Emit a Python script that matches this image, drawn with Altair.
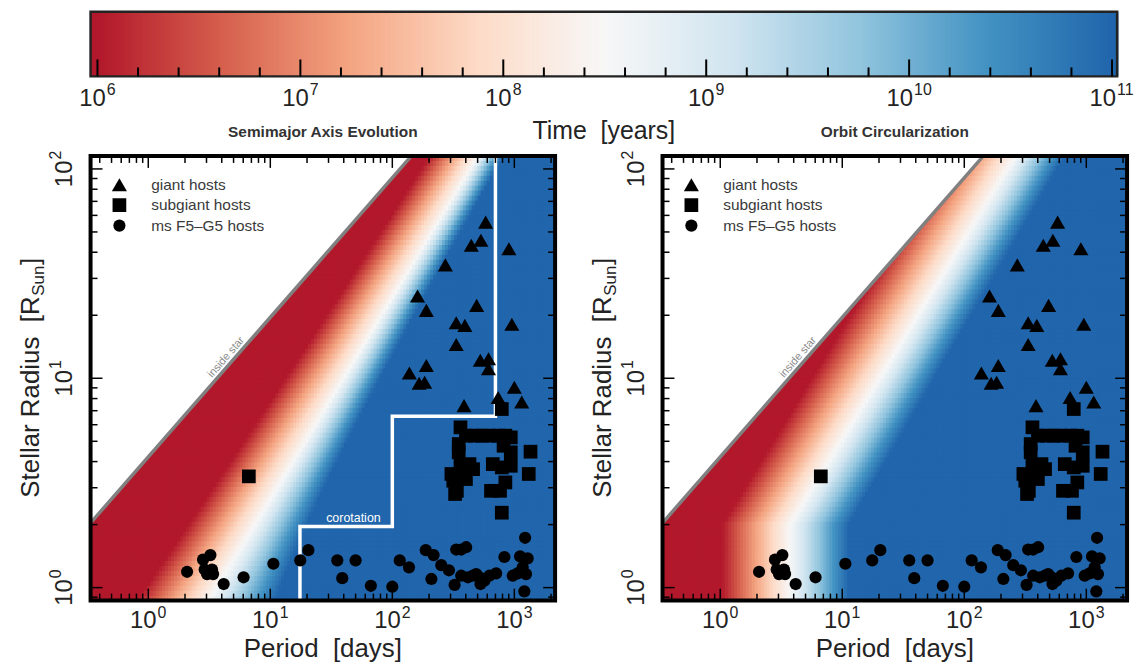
import altair as alt
import numpy as np
import pandas as pd

FONT = "Liberation Sans"
INK = "#232323"

# ---------------------------------------------------------------- values
giant_period = [582, 444, 532, 903, 272, 161, 190, 491, 334, 393, 954, 334, 526, 614, 614,
                190, 138, 166, 184, 1000, 387, 1150, 737]
giant_radius = [55.7, 43.2, 45.6, 41.6, 34.8, 24.7, 21.1, 22.3, 18.4, 17.9, 18.1, 14.5, 12.2, 12.4, 11.1,
                11.5, 10.6, 9.47, 9.57, 9.06, 7.4, 7.7, 8.1]
subgiant_period = [6.67, 789, 362, 401, 474, 543, 622, 737, 844, 935, 350, 350, 816, 935, 1357, 362,
                   429, 459, 388, 666, 789, 935, 305, 316, 401, 1312, 844, 644, 763, 338, 327, 789]
subgiant_radius = [3.40, 7.13, 5.83, 5.32, 5.32, 5.32, 5.32, 5.32, 5.32, 5.22, 4.85, 4.43, 4.76, 4.43, 4.46, 3.82,
                   3.89, 3.68, 3.55, 3.89, 3.75, 3.82, 3.49, 3.24, 3.30, 3.49, 3.18, 2.90, 2.90, 2.90, 2.80, 2.28]
ms_period = [2.08, 2.81, 3.23, 2.90, 3.33, 3.03, 3.40, 3.13, 4.15, 6.04, 10.6, 17.6, 20.5, 35.4, 38.9, 50,
             66.7, 100, 115, 137, 188, 218, 209, 252, 291, 324, 334, 367, 403, 367, 416, 457, 487, 518,
             569, 625, 709, 528, 829, 970, 1064, 1114, 1286, 1170, 1247, 1208, 1225]
ms_radius = [1.19, 1.36, 1.43, 1.22, 1.22, 1.16, 1.16, 1.19, 1.04, 1.12, 1.30, 1.35, 1.51, 1.35, 1.11, 1.35,
             1.02, 1.01, 1.35, 1.25, 1.51, 1.43, 1.10, 1.28, 1.21, 1.03, 1.52, 1.52, 1.56, 1.14, 1.12, 1.14,
             1.16, 1.12, 1.08, 1.14, 1.17, 1.04, 1.40, 1.14, 1.17, 1.41, 1.38, 1.25, 1.16, 0.96, 1.73]

corotation_period = [17.5, 17.5, 100, 100, 700, 700]
corotation_radius = [0.867, 1.96, 1.96, 6.58, 6.58, 115.3]

host_types = ["giant hosts", "subgiant hosts", "ms F5\u2013G5 hosts"]
host_shapes = ["triangle-up", "square", "circle"]
host_sizes = [230, 150, 62]

period_major = [1, 10, 100, 1000]
period_exp = ["0", "1", "2", "3"]
period_minor = [0.4, 0.5, 0.6, 0.7, 0.8, 0.9, 2, 3, 4, 5, 6, 7, 8, 9, 20, 30, 40, 50, 60, 70, 80, 90,
                200, 300, 400, 500, 600, 700, 800, 900, 2000]
radius_major = [1, 10, 100]
radius_exp = ["0", "1", "2"]
radius_minor = [0.9, 2, 3, 4, 5, 6, 7, 8, 9, 20, 30, 40, 50, 60, 70, 80, 90]
time_major = [1e6, 1e7, 1e8, 1e9, 1e10, 1e11]
time_exp = ["6", "7", "8", "9", "10", "11"]
time_minor_log = [6.2, 6.4, 6.6, 6.8, 7.2, 7.4, 7.6, 7.8, 8.2, 8.4, 8.6, 8.8,
                  9.2, 9.4, 9.6, 9.8, 10.2, 10.4, 10.6, 10.8]

color_stops = ["#b2182b", "#d6604d", "#f4a582", "#fddbc7", "#f7f7f7",
               "#d1e5f0", "#92c5de", "#4393c3", "#2166ac"]

# ---------------------------------------------------------------- geometry / scales
W, H = 467, 447
CB_W = 1032
LP0, LP1 = -0.473, 3.334          # log10 period range
LR0, LR1 = -0.062, 2.062          # log10 radius range
LT0, LT1 = 5.966, 11.025          # log10 time range of colour bar
KEP = np.log10(4.21)              # a[R_sun] = 4.21 P[d]^(2/3)  (1 M_sun)

xscale = alt.Scale(type="log", domain=[10 ** LP0, 10 ** LP1], nice=False)
yscale = alt.Scale(type="log", domain=[10 ** LR0, 10 ** LR1], nice=False)
tscale = alt.Scale(type="log", domain=[10 ** LT0, 10 ** LT1], range=[0, CB_W], nice=False)
cscale = alt.Scale(type="log", domain=[float(10 ** v) for v in np.linspace(6, 11, 9)],
                   range=color_stops, interpolate="rgb", clamp=True)

X = lambda f: alt.X(f, type="quantitative", scale=xscale, axis=None)
Y = lambda f: alt.Y(f, type="quantitative", scale=yscale, axis=None)
TX = lambda f: alt.X(f, type="quantitative", scale=tscale, axis=None)

one = alt.Data(values=[{}])
BASE, EXP, RISE = 24, 16, 11
W10 = 1.112 * BASE


def text_at(txt, **kw):
    return alt.Chart(one).mark_text(font=FONT, **kw).encode(text=alt.value(txt))


def power_labels(df, pos_enc, fixed_enc, angle=0, ndig=1):
    """'10' in large type plus a raised exponent, centred on the tick."""
    w = W10 + 0.556 * EXP * ndig + 1
    extra = {"angle": angle} if angle else {}
    base = alt.Chart(df).mark_text(font=FONT, fontSize=BASE, color=INK, align="left",
                                   baseline="alphabetic", dx=-w / 2, **extra)
    exp = alt.Chart(df).mark_text(font=FONT, fontSize=EXP, color=INK, align="left",
                                  baseline="alphabetic", dx=-w / 2 + W10 + 1, dy=-RISE, **extra)
    return [base.encode(text=alt.value("10"), **pos_enc, **fixed_enc),
            exp.encode(text="e:N", **pos_enc, **fixed_enc)]


# ---------------------------------------------------------------- tidal time fields (model)
def field_semimajor(x, y):
    xw = 0.56 + 1.04 * y
    d = x - xw
    k = np.where(d < 0, 4.3 + 0.95 * y, 4.8 + 3.6 * y)
    return 8.5 + k * d


def field_circular(x, y):
    ye = np.maximum(y, 0.3)
    xw = 0.57 + 1.05 * (ye - 0.3)
    d = x - xw
    k = np.where(d < 0, 4.5, 5.0 + 0.6 * ye)
    return 8.5 + k * d


def heat_layer(fn):
    nx, ny = 156, 90
    xe = np.linspace(LP0, LP1, nx + 1)
    ye = np.linspace(LR0, LR1, ny + 1)
    dx, dy = xe[1] - xe[0], ye[1] - ye[0]
    GX, GY = np.meshgrid(xe[:-1], ye[:-1])
    keep = (KEP + (2 / 3) * (GX + dx) - GY) >= 0
    T = fn(GX + dx / 2, GY + dy / 2)
    df = pd.DataFrame({"lx": GX[keep].round(4), "ly": GY[keep].round(4), "lt": T[keep].round(3)})
    return (alt.Chart(df)
            .transform_calculate(p0="pow(10, datum.lx)", p1=f"pow(10, datum.lx + {dx * 1.3:.5f})",
                                 r0="pow(10, datum.ly)", r1=f"pow(10, datum.ly + {dy * 1.3:.5f})",
                                 T="pow(10, datum.lt)")
            .mark_rect(clip=True, strokeWidth=0)
            .encode(x=X("p0"), x2="p1:Q", y=Y("r0"), y2="r1:Q",
                    color=alt.Color("T:Q", scale=cscale, legend=None)))


# inside-star boundary a = R
P_a = 10 ** LP0
R_b = 10 ** LR1
star_df = pd.DataFrame({"P": [P_a, (R_b / 4.21) ** 1.5], "R": [4.21 * P_a ** (2 / 3), R_b], "Rtop": [R_b, R_b]})
lab_P = 4.8
star_lab_df = pd.DataFrame({"P": [lab_P], "R": [4.21 * lab_P ** (2 / 3)], "t": ["inside star"]})

pts = pd.concat([
    pd.DataFrame({"P": giant_period, "R": giant_radius, "type": host_types[0]}),
    pd.DataFrame({"P": subgiant_period, "R": subgiant_radius, "type": host_types[1]}),
    pd.DataFrame({"P": ms_period, "R": ms_radius, "type": host_types[2]}),
])


def ticks(vals, side, length):
    df = pd.DataFrame({"v": vals})
    m = alt.Chart(df).mark_rule(color="black", strokeWidth=1.5)
    if side == "bottom":
        return m.encode(x=X("v"), y=alt.value(H), y2=alt.value(H - length))
    if side == "top":
        return m.encode(x=X("v"), y=alt.value(0), y2=alt.value(length))
    if side == "left":
        return m.encode(y=Y("v"), x=alt.value(0), x2=alt.value(length))
    return m.encode(y=Y("v"), x=alt.value(W), x2=alt.value(W - length))


def panel(fn, title, extra=()):
    legend = alt.Legend(orient="none", legendX=21, legendY=21, title=None, direction="vertical",
                        labelFont=FONT, labelFontSize=15.5, labelColor="#3a3a3a",
                        symbolFillColor="black", symbolStrokeColor="black", symbolStrokeWidth=0,
                        labelOffset=24, rowPadding=3.5, clipHeight=16, padding=0)
    xlab = pd.DataFrame({"v": period_major, "e": period_exp})
    ylab = pd.DataFrame({"v": radius_major, "e": radius_exp})
    layers = [
        heat_layer(fn),
        alt.Chart(star_df).mark_area(fill="white", opacity=1, strokeWidth=0, clip=True)
           .encode(x=X("P"), y=Y("R"), y2="Rtop:Q"),
        alt.Chart(star_df).mark_line(color="#808080", strokeWidth=3.5, clip=True).encode(x=X("P"), y=Y("R")),
        alt.Chart(star_lab_df).mark_text(font=FONT, fontSize=11, color="#8c8c8c", angle=311,
                                         align="center", baseline="bottom", dy=-2)
           .encode(x=X("P"), y=Y("R"), text="t:N"),
        *extra,
        ticks(period_major, "bottom", 12), ticks(period_minor, "bottom", 7),
        ticks(period_major, "top", 12), ticks(period_minor, "top", 7),
        ticks(radius_major, "left", 12), ticks(radius_minor, "left", 7),
        ticks(radius_major, "right", 12), ticks(radius_minor, "right", 7),
        alt.Chart(pts).mark_point(filled=True, opacity=1, color="black").encode(
            x=X("P"), y=Y("R"),
            shape=alt.Shape("type:N", scale=alt.Scale(domain=host_types, range=host_shapes), legend=legend),
            size=alt.Size("type:N", scale=alt.Scale(domain=host_types, range=host_sizes), legend=legend)),
        alt.Chart(one).mark_rect(filled=False, stroke="black", strokeWidth=4).encode(
            x=alt.value(0), x2=alt.value(W), y=alt.value(0), y2=alt.value(H)),
        # tick labels
        *power_labels(xlab, {"x": X("v")}, {"y": alt.value(H + 28)}),
        *power_labels(ylab, {"y": Y("v")}, {"x": alt.value(-19)}, angle=270),
        # axis titles and panel title
        text_at("Period\u00a0 [days]", fontSize=26, color=INK, align="center", baseline="alphabetic")
           .encode(x=alt.value(W / 2), y=alt.value(H + 57)),
        text_at("Stellar Radius\u00a0 [R", fontSize=26, color=INK, align="left", baseline="alphabetic",
                angle=270, dx=-120).encode(x=alt.value(-52), y=alt.value(H / 2)),
        text_at("Sun", fontSize=17, color=INK, align="left", baseline="alphabetic",
                angle=270, dx=83, dy=5).encode(x=alt.value(-52), y=alt.value(H / 2)),
        text_at("]", fontSize=26, color=INK, align="left", baseline="alphabetic",
                angle=270, dx=114).encode(x=alt.value(-52), y=alt.value(H / 2)),
        text_at(title, fontSize=15.5, fontWeight="bold", color="#333333", align="center",
                baseline="alphabetic").encode(x=alt.value(W / 2), y=alt.value(-19)),
    ]
    return alt.layer(*layers)


# corotation boundary (left panel only)
corot_df = pd.DataFrame({"P": corotation_period, "R": corotation_radius, "o": range(6)})
corot = [
    alt.Chart(corot_df).mark_line(color="white", strokeWidth=3.5, clip=True)
       .encode(x=X("P"), y=Y("R"), order="o:Q"),
    alt.Chart(pd.DataFrame({"P": [48], "R": [1.96], "t": ["corotation"]}))
       .mark_text(font=FONT, fontSize=12.5, color="white", baseline="alphabetic", dy=-4)
       .encode(x=X("P"), y=Y("R"), text="t:N"),
]

# colour bar (drawn above the left panel, spanning both panels)
cb_edges = np.linspace(LT0, LT1, 401)
cb_step = cb_edges[1] - cb_edges[0]
cb_df = pd.DataFrame({"lt": cb_edges[:-1].round(5)})
CB_TOP, CB_BOT = -145, -80
cb_lab1 = pd.DataFrame({"T": time_major[:4], "e": time_exp[:4]})
cb_lab2 = pd.DataFrame({"T": time_major[4:], "e": time_exp[4:]})
colorbar = alt.layer(
    alt.Chart(cb_df).transform_calculate(
        t0="pow(10, datum.lt)", t1=f"pow(10, datum.lt + {cb_step * 1.5:.5f})",
        T=f"pow(10, datum.lt + {cb_step / 2:.5f})")
       .mark_rect(strokeWidth=0)
       .encode(x=TX("t0:Q"), x2="t1:Q", y=alt.value(CB_TOP), y2=alt.value(CB_BOT),
               color=alt.Color("T:Q", scale=cscale, legend=None)),
    alt.Chart(pd.DataFrame({"a": [10 ** LT0], "b": [10 ** LT1]}))
       .mark_rect(filled=False, stroke=INK, strokeWidth=2.5)
       .encode(x=TX("a:Q"), x2="b:Q", y=alt.value(CB_TOP), y2=alt.value(CB_BOT)),
    alt.Chart(pd.DataFrame({"T": time_major})).mark_rule(color="black", strokeWidth=2)
       .encode(x=TX("T:Q"), y=alt.value(CB_BOT), y2=alt.value(CB_BOT - 17)),
    alt.Chart(pd.DataFrame({"lt": time_minor_log})).transform_calculate(T="pow(10, datum.lt)")
       .mark_rule(color="black", strokeWidth=2)
       .encode(x=TX("T:Q"), y=alt.value(CB_BOT), y2=alt.value(CB_BOT - 9)),
    *power_labels(cb_lab1, {"x": TX("T:Q")}, {"y": alt.value(-50)}),
    *power_labels(cb_lab2, {"x": TX("T:Q")}, {"y": alt.value(-50)}, ndig=2),
    alt.Chart(pd.DataFrame({"T": [10 ** ((LT0 + LT1) / 2)], "lab": ["Time\u00a0 [years]"]}))
       .mark_text(font=FONT, fontSize=25, color=INK, align="center", baseline="alphabetic")
       .encode(x=TX("T:Q"), y=alt.value(-17), text="lab:N"),
)

left = alt.layer(panel(field_semimajor, "Semimajor Axis Evolution", extra=corot), colorbar) \
    .resolve_scale(x="independent").properties(width=W, height=H)
right = panel(field_circular, "Orbit Circularization").properties(width=W, height=H)

chart = (alt.hconcat(left, right, spacing=108, bounds="flush")
         .resolve_scale(color="independent", shape="independent", size="independent")
         .resolve_legend(shape="independent", size="independent")
         .properties(padding={"left": 10, "top": 0, "right": 5, "bottom": 0})
         .configure_view(strokeWidth=0))

chart.save("out.html", embed_options={"renderer": "svg", "actions": False})
